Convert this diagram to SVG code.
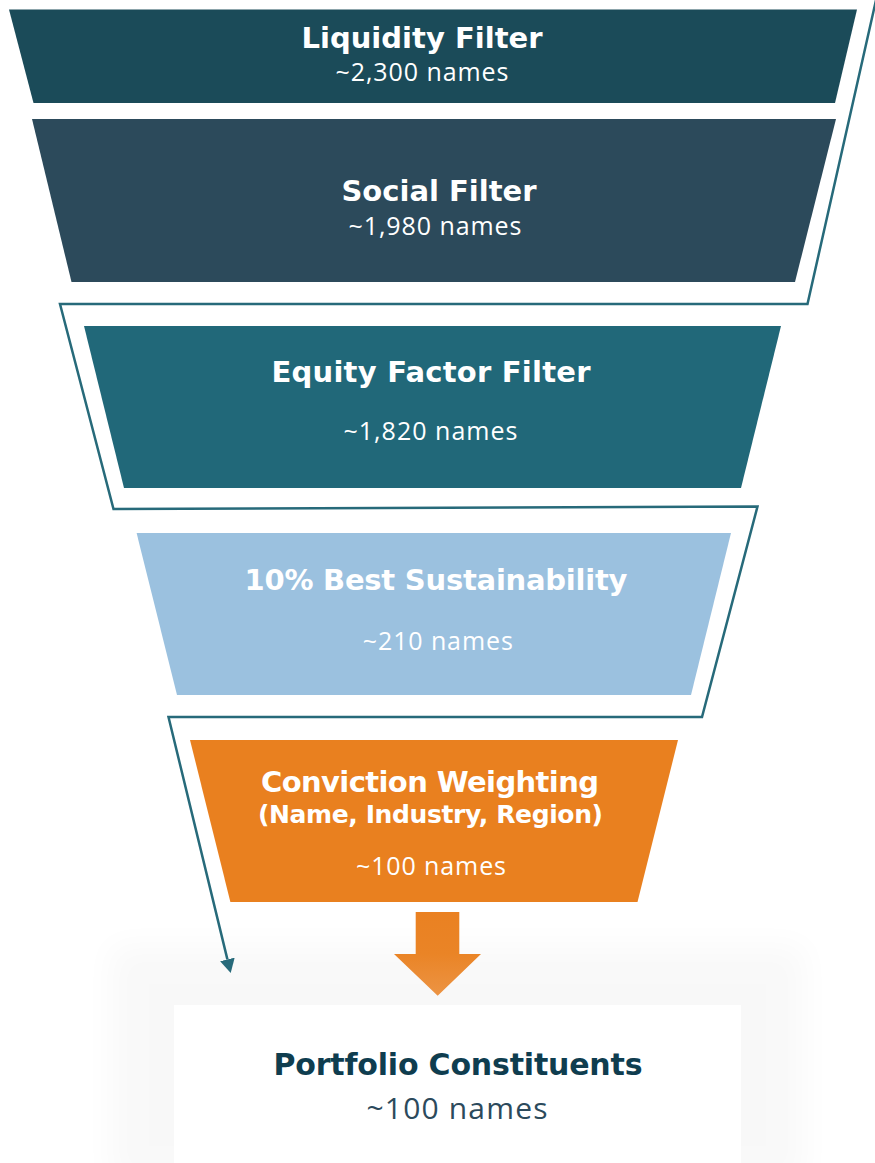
<svg xmlns="http://www.w3.org/2000/svg" width="875" height="1163" viewBox="0 0 875 1163">
  <style>
    .title { font-family: "DejaVu Sans", "Open Sans", sans-serif; font-weight: 700; fill: #ffffff; text-anchor: middle; }
    .count { font-family: "Open Sans", "Liberation Sans", sans-serif; font-weight: 400; fill: #ffffff; text-anchor: middle; }
    .conn { fill: none; stroke: #276a7a; stroke-width: 2.5; stroke-linejoin: miter; }
  </style>
  <defs>
    <marker id="arrow" viewBox="0 0 14 15" refX="0" refY="7.5" markerUnits="userSpaceOnUse" markerWidth="14" markerHeight="15" orient="auto">
      <path d="M0,0 L14,7.5 L0,15 z" fill="#276a7a"/>
    </marker>
    <linearGradient id="arrowGrad" x1="0" y1="0" x2="0" y2="1">
      <stop offset="0" stop-color="#ea8122"/>
      <stop offset="0.5" stop-color="#ea8426"/>
      <stop offset="1" stop-color="#ec9444"/>
    </linearGradient>
    <filter id="shadow" x="-20%" y="-20%" width="140%" height="140%">
      <feGaussianBlur stdDeviation="16"/>
    </filter>
  </defs>
  <rect width="875" height="1163" fill="#ffffff"/>

  <g id="liquidity-filter">
    <polygon points="9,9.5 857,9.5 835,103 33.5,103" fill="#1b4b59"/>
    <text class="title" x="422" y="48" font-size="29" textLength="241">Liquidity Filter</text>
    <text class="count" x="422" y="81" font-size="25" textLength="173">~2,300 names</text>
  </g>

  <g id="social-filter">
    <polygon points="32,119 836,119 795,282 71.5,282" fill="#2c4a5b"/>
    <text class="title" x="439" y="201" font-size="29" textLength="195">Social Filter</text>
    <text class="count" x="435" y="235" font-size="25" textLength="173">~1,980 names</text>
  </g>

  <g id="equity-factor-filter">
    <polygon points="84,326 781,326 741,488 124,488" fill="#216879"/>
    <text class="title" x="431" y="382" font-size="29" textLength="319">Equity Factor Filter</text>
    <text class="count" x="430.5" y="440" font-size="25" textLength="174">~1,820 names</text>
  </g>

  <g id="best-sustainability">
    <polygon points="136.6,533 731,533 691,695 177,695" fill="#9bc1df"/>
    <text class="title" x="436" y="590" font-size="29" textLength="383">10% Best Sustainability</text>
    <text class="count" x="437.8" y="650" font-size="25" textLength="150">~210 names</text>
  </g>

  <g id="conviction-weighting">
    <polygon points="190,740 678,740 637.5,902 230.4,902" fill="#e9801f"/>
    <text class="title" x="430" y="791.5" font-size="29" textLength="338">Conviction Weighting</text>
    <text class="title" x="430.5" y="822.5" font-size="25" textLength="345">(Name, Industry, Region)</text>
    <text class="count" x="431" y="875" font-size="25" textLength="150">~100 names</text>
  </g>

  <g id="portfolio-constituents">
    <rect x="110" y="945" width="695" height="240" fill="#000000" opacity="0.022" filter="url(#shadow)"/>
    <rect x="174" y="1005" width="567" height="170" fill="#ffffff"/>
    <text x="458" y="1075" font-family="'DejaVu Sans', 'Open Sans', sans-serif" font-weight="700" font-size="30" fill="#0f3d4f" text-anchor="middle" textLength="369">Portfolio Constituents</text>
    <text x="457" y="1119" font-family="'Open Sans', 'Liberation Sans', sans-serif" font-weight="400" font-size="30" fill="#2c4a5c" text-anchor="middle" textLength="181">~100 names</text>
  </g>

  <g id="output-arrow">
    <polygon points="415.7,912 459.3,912 459.3,954 481,954 437.7,995.7 394,954 415.7,954" fill="url(#arrowGrad)"/>
  </g>

  <g id="connectors">
    <path class="conn" d="M 876.5,-2 L 807.5,304 L 60,304 L 113.5,509 L 757.5,506.5 L 702,717 L 168.5,717 L 227.4,959.4" marker-end="url(#arrow)"/>
  </g>
</svg>
